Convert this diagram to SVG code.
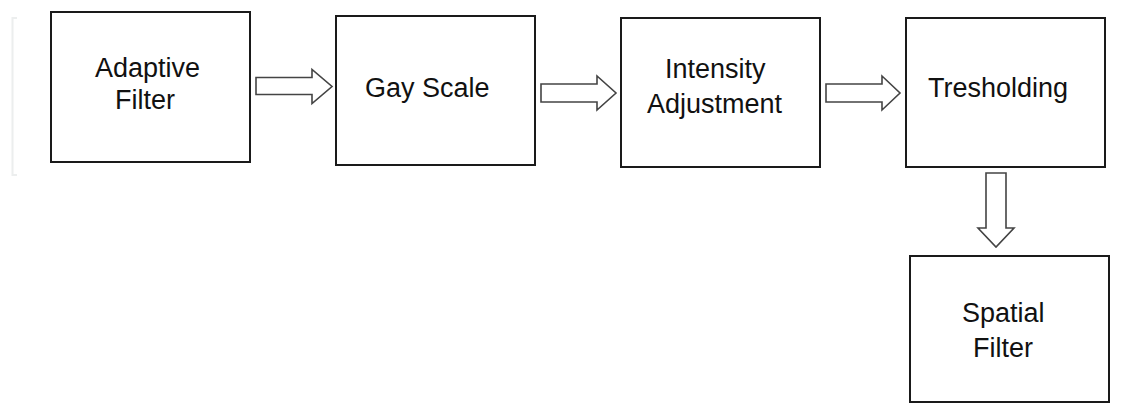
<svg xmlns="http://www.w3.org/2000/svg" width="1140" height="404" viewBox="0 0 1140 404">
<style>
.box{fill:#fff;stroke:#1a1a1a;stroke-width:2}
.lbl{font-family:"Liberation Sans",Arial,sans-serif;font-size:27px;fill:#111}
.arr{fill:#fff;stroke:#444;stroke-width:1.6;stroke-linejoin:miter}
</style>
<rect width="1140" height="404" fill="#fff"/>
<path d="M17,18 H12.5 V175 H17" fill="none" stroke="#eceeee" stroke-width="2"/>
<g id="adaptive-filter">
<rect class="box" x="51" y="12" width="199" height="150"/>
<text class="lbl" x="95" y="77">Adaptive</text>
<text class="lbl" x="115" y="109">Filter</text>
</g>
<g id="gay-scale">
<rect class="box" x="336" y="16" width="199" height="149"/>
<text class="lbl" x="365" y="97">Gay Scale</text>
</g>
<g id="intensity-adjustment">
<rect class="box" x="621" y="18" width="199" height="149"/>
<text class="lbl" x="665" y="78">Intensity</text>
<text class="lbl" x="647" y="113">Adjustment</text>
</g>
<g id="tresholding">
<rect class="box" x="906" y="18" width="199" height="149"/>
<text class="lbl" x="928" y="97">Tresholding</text>
</g>
<g id="spatial-filter">
<rect class="box" x="910" y="256" width="199" height="146"/>
<text class="lbl" x="962" y="322">Spatial</text>
<text class="lbl" x="973" y="357">Filter</text>
</g>
<g id="connectors">
<path class="arr" d="M256,77.5 H312 V69.5 L332,86.5 L312,103.5 V94.5 H256 Z"/>
<path class="arr" d="M541,84 H597 V76 L616,93 L597,110 V102 H541 Z"/>
<path class="arr" d="M826,84 H882 V76 L900,93 L882,110 V102 H826 Z"/>
<path class="arr" d="M986,173 V228 H978 L996,247 L1014,228 H1006 V173 Z"/>
</g>
</svg>
